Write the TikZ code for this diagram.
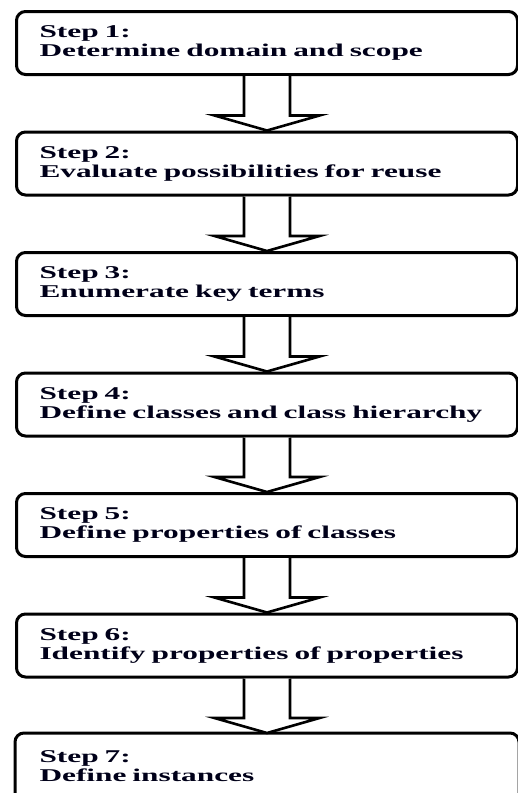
\documentclass[tikz,border=0pt]{standalone}
\usepackage{fontspec}
\setmainfont{Liberation Serif}
\newfontfamily\stepfont[FakeStretch=1.74]{Liberation Serif}
\usetikzlibrary{calc}
\tikzset{
  stepbox/.style={draw=black, line width=3pt, rounded corners=9pt, fill=white,
    minimum width=501pt, minimum height=63pt, anchor=north west,
    inner xsep=23pt, inner ysep=0pt, text width=455pt, align=left,
    font=\stepfont\bfseries\fontsize{18}{19}\selectfont, text=black!90!blue},
  blockarrow/.style={draw=black, line width=2.6pt, fill=white, line join=miter},
}
\begin{document}
\begin{tikzpicture}[x=1pt,y=-1pt]
  \useasboundingbox (0,0) rectangle (518,793);
  \fill[white] (0,0) rectangle (518,793);

  \node[stepbox] (s1) at (15,10)    {Step 1:\\Determine domain and scope};
  \node[stepbox] (s2) at (15,130.5) {Step 2:\\Evaluate possibilities for reuse};
  \node[stepbox] (s3) at (15,251)   {Step 3:\\Enumerate key terms};
  \node[stepbox] (s4) at (15,371.5) {Step 4:\\Define classes and class hierarchy};
  \node[stepbox] (s5) at (15,492)   {Step 5:\\Define properties of classes};
  \node[stepbox] (s6) at (15,612.5) {Step 6:\\Identify properties of properties};
  \node[stepbox, draw=none] (s7) at (15,733) {Step 7:\\Define instances};
  % the last box runs past the lower edge of the page
  \draw[line width=3pt, rounded corners=9pt]
    (s7.north west) rectangle ($(s7.south east)+(0,12)$);

  % hollow block arrows between consecutive steps
  \foreach \a/\b in {s1/s2, s2/s3, s3/s4, s4/s5, s5/s6, s6/s7} {
    \draw[blockarrow]
      ($(\a.south)+(-23,0)$) -- ($(\b.north)+(-23,-15)$)
      -- ($(\b.north)+(-52.5,-15)$) -- (\b.north)
      -- ($(\b.north)+(52.5,-15)$) -- ($(\b.north)+(23,-15)$)
      -- ($(\a.south)+(23,0)$);
  }
\end{tikzpicture}
\end{document}
